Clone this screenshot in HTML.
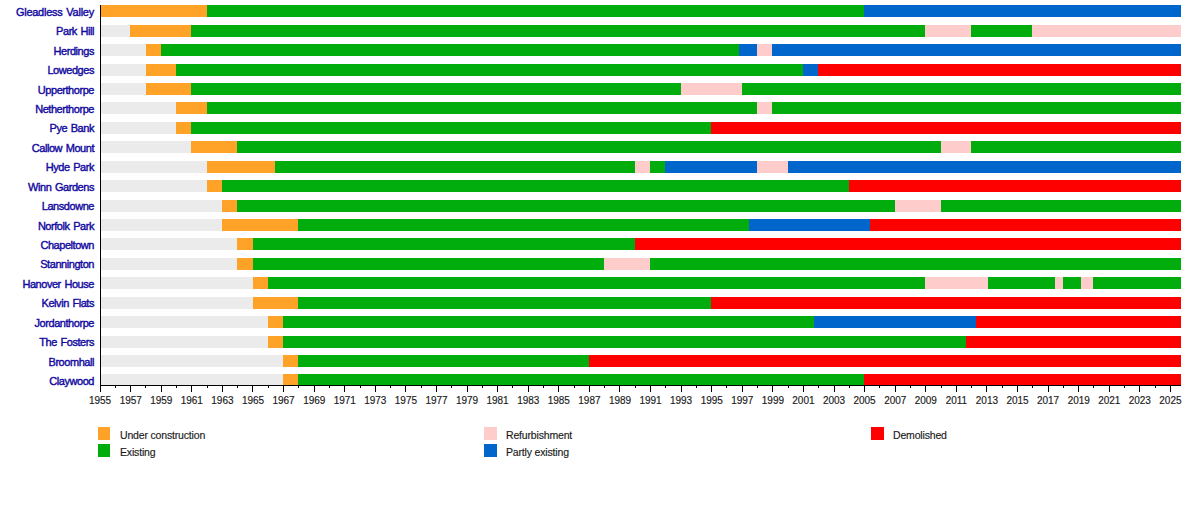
<!DOCTYPE html>
<html><head><meta charset="utf-8"><title>Timeline</title>
<style>
html,body{margin:0;padding:0;background:#fff;}
body{width:1200px;height:505px;position:relative;overflow:hidden;font-family:"Liberation Sans",sans-serif;}
.s{position:absolute;height:12px;}
.n{position:absolute;right:1106px;white-space:nowrap;font-size:11px;line-height:12px;color:#1209a0;letter-spacing:-0.45px;word-spacing:1px;-webkit-text-stroke:0.4px #1209a0;}
.t{position:absolute;width:1px;background:#000;top:385px;}
.l{position:absolute;top:396px;width:40px;margin-left:-20px;text-align:center;font-size:10px;line-height:10px;color:#1a1a1a;letter-spacing:-0.05px;-webkit-text-stroke:0.15px #1a1a1a;}
.k{position:absolute;width:12.5px;height:13px;}
.kt{position:absolute;font-size:10.5px;line-height:12px;color:#1a1a1a;white-space:nowrap;letter-spacing:-0.17px;-webkit-text-stroke:0.15px #1a1a1a;}
</style></head><body>

<div class="s" style="left:99.6px;top:5.3px;width:1081.4px;background:#ffa328"></div>
<div class="s" style="left:206.6px;top:5.3px;width:974.4px;background:#00ad0c"></div>
<div class="s" style="left:864.1px;top:5.3px;width:316.9px;background:#0066cc"></div>
<div class="n" style="top:5.8px;letter-spacing:-0.25px">Gleadless Valley</div>
<div class="s" style="left:99.6px;top:24.73px;width:1081.4px;background:#ebebeb"></div>
<div class="s" style="left:130.2px;top:24.73px;width:1050.8px;background:#ffa328"></div>
<div class="s" style="left:191.3px;top:24.73px;width:989.7px;background:#00ad0c"></div>
<div class="s" style="left:925.3px;top:24.73px;width:255.7px;background:#ffcccc"></div>
<div class="s" style="left:971.1px;top:24.73px;width:209.9px;background:#00ad0c"></div>
<div class="s" style="left:1032.3px;top:24.73px;width:148.7px;background:#ffcccc"></div>
<div class="n" style="top:25.2px">Park Hill</div>
<div class="s" style="left:99.6px;top:44.16px;width:1081.4px;background:#ebebeb"></div>
<div class="s" style="left:145.5px;top:44.16px;width:1035.5px;background:#ffa328"></div>
<div class="s" style="left:160.8px;top:44.16px;width:1020.2px;background:#00ad0c"></div>
<div class="s" style="left:738.7px;top:44.16px;width:442.3px;background:#0066cc"></div>
<div class="s" style="left:757.1px;top:44.16px;width:423.9px;background:#ffcccc"></div>
<div class="s" style="left:772.4px;top:44.16px;width:408.6px;background:#0066cc"></div>
<div class="n" style="top:44.7px">Herdings</div>
<div class="s" style="left:99.6px;top:63.59px;width:1081.4px;background:#ebebeb"></div>
<div class="s" style="left:145.5px;top:63.59px;width:1035.5px;background:#ffa328"></div>
<div class="s" style="left:176.0px;top:63.59px;width:1005.0px;background:#00ad0c"></div>
<div class="s" style="left:802.9px;top:63.59px;width:378.1px;background:#0066cc"></div>
<div class="s" style="left:818.2px;top:63.59px;width:362.8px;background:#ff0000"></div>
<div class="n" style="top:64.1px">Lowedges</div>
<div class="s" style="left:99.6px;top:83.02px;width:1081.4px;background:#ebebeb"></div>
<div class="s" style="left:145.5px;top:83.02px;width:1035.5px;background:#ffa328"></div>
<div class="s" style="left:191.3px;top:83.02px;width:989.7px;background:#00ad0c"></div>
<div class="s" style="left:680.6px;top:83.02px;width:500.4px;background:#ffcccc"></div>
<div class="s" style="left:741.8px;top:83.02px;width:439.2px;background:#00ad0c"></div>
<div class="n" style="top:83.5px">Upperthorpe</div>
<div class="s" style="left:99.6px;top:102.45px;width:1081.4px;background:#ebebeb"></div>
<div class="s" style="left:176.0px;top:102.45px;width:1005.0px;background:#ffa328"></div>
<div class="s" style="left:206.6px;top:102.45px;width:974.4px;background:#00ad0c"></div>
<div class="s" style="left:757.1px;top:102.45px;width:423.9px;background:#ffcccc"></div>
<div class="s" style="left:772.4px;top:102.45px;width:408.6px;background:#00ad0c"></div>
<div class="n" style="top:103.0px">Netherthorpe</div>
<div class="s" style="left:99.6px;top:121.88px;width:1081.4px;background:#ebebeb"></div>
<div class="s" style="left:176.0px;top:121.88px;width:1005.0px;background:#ffa328"></div>
<div class="s" style="left:191.3px;top:121.88px;width:989.7px;background:#00ad0c"></div>
<div class="s" style="left:711.2px;top:121.88px;width:469.8px;background:#ff0000"></div>
<div class="n" style="top:122.4px">Pye Bank</div>
<div class="s" style="left:99.6px;top:141.31px;width:1081.4px;background:#ebebeb"></div>
<div class="s" style="left:191.3px;top:141.31px;width:989.7px;background:#ffa328"></div>
<div class="s" style="left:237.2px;top:141.31px;width:943.8px;background:#00ad0c"></div>
<div class="s" style="left:940.5px;top:141.31px;width:240.5px;background:#ffcccc"></div>
<div class="s" style="left:971.1px;top:141.31px;width:209.9px;background:#00ad0c"></div>
<div class="n" style="top:141.8px">Callow Mount</div>
<div class="s" style="left:99.6px;top:160.74px;width:1081.4px;background:#ebebeb"></div>
<div class="s" style="left:206.6px;top:160.74px;width:974.4px;background:#ffa328"></div>
<div class="s" style="left:274.7px;top:160.74px;width:906.3px;background:#00ad0c"></div>
<div class="s" style="left:634.8px;top:160.74px;width:546.2px;background:#ffcccc"></div>
<div class="s" style="left:650.0px;top:160.74px;width:531.0px;background:#00ad0c"></div>
<div class="s" style="left:665.3px;top:160.74px;width:515.7px;background:#0066cc"></div>
<div class="s" style="left:757.1px;top:160.74px;width:423.9px;background:#ffcccc"></div>
<div class="s" style="left:787.6px;top:160.74px;width:393.4px;background:#0066cc"></div>
<div class="n" style="top:161.2px">Hyde Park</div>
<div class="s" style="left:99.6px;top:180.17px;width:1081.4px;background:#ebebeb"></div>
<div class="s" style="left:206.6px;top:180.17px;width:974.4px;background:#ffa328"></div>
<div class="s" style="left:221.9px;top:180.17px;width:959.1px;background:#00ad0c"></div>
<div class="s" style="left:848.8px;top:180.17px;width:332.2px;background:#ff0000"></div>
<div class="n" style="top:180.7px">Winn Gardens</div>
<div class="s" style="left:99.6px;top:199.6px;width:1081.4px;background:#ebebeb"></div>
<div class="s" style="left:221.9px;top:199.6px;width:959.1px;background:#ffa328"></div>
<div class="s" style="left:237.2px;top:199.6px;width:943.8px;background:#00ad0c"></div>
<div class="s" style="left:894.7px;top:199.6px;width:286.3px;background:#ffcccc"></div>
<div class="s" style="left:940.5px;top:199.6px;width:240.5px;background:#00ad0c"></div>
<div class="n" style="top:200.1px">Lansdowne</div>
<div class="s" style="left:99.6px;top:219.03px;width:1081.4px;background:#ebebeb"></div>
<div class="s" style="left:221.9px;top:219.03px;width:959.1px;background:#ffa328"></div>
<div class="s" style="left:298.4px;top:219.03px;width:882.6px;background:#00ad0c"></div>
<div class="s" style="left:748.7px;top:219.03px;width:432.3px;background:#0066cc"></div>
<div class="s" style="left:870.2px;top:219.03px;width:310.8px;background:#ff0000"></div>
<div class="n" style="top:219.5px">Norfolk Park</div>
<div class="s" style="left:99.6px;top:238.46px;width:1081.4px;background:#ebebeb"></div>
<div class="s" style="left:237.2px;top:238.46px;width:943.8px;background:#ffa328"></div>
<div class="s" style="left:252.5px;top:238.46px;width:928.5px;background:#00ad0c"></div>
<div class="s" style="left:634.8px;top:238.46px;width:546.2px;background:#ff0000"></div>
<div class="n" style="top:239.0px">Chapeltown</div>
<div class="s" style="left:99.6px;top:257.89px;width:1081.4px;background:#ebebeb"></div>
<div class="s" style="left:237.2px;top:257.89px;width:943.8px;background:#ffa328"></div>
<div class="s" style="left:252.5px;top:257.89px;width:928.5px;background:#00ad0c"></div>
<div class="s" style="left:604.2px;top:257.89px;width:576.8px;background:#ffcccc"></div>
<div class="s" style="left:650.0px;top:257.89px;width:531.0px;background:#00ad0c"></div>
<div class="n" style="top:258.4px">Stannington</div>
<div class="s" style="left:99.6px;top:277.32px;width:1081.4px;background:#ebebeb"></div>
<div class="s" style="left:252.5px;top:277.32px;width:928.5px;background:#ffa328"></div>
<div class="s" style="left:267.8px;top:277.32px;width:913.2px;background:#00ad0c"></div>
<div class="s" style="left:925.3px;top:277.32px;width:255.7px;background:#ffcccc"></div>
<div class="s" style="left:987.9px;top:277.32px;width:193.1px;background:#00ad0c"></div>
<div class="s" style="left:1054.5px;top:277.32px;width:126.5px;background:#ffcccc"></div>
<div class="s" style="left:1062.9px;top:277.32px;width:118.1px;background:#00ad0c"></div>
<div class="s" style="left:1081.2px;top:277.32px;width:99.8px;background:#ffcccc"></div>
<div class="s" style="left:1093.4px;top:277.32px;width:87.6px;background:#00ad0c"></div>
<div class="n" style="top:277.8px">Hanover House</div>
<div class="s" style="left:99.6px;top:296.75px;width:1081.4px;background:#ebebeb"></div>
<div class="s" style="left:252.5px;top:296.75px;width:928.5px;background:#ffa328"></div>
<div class="s" style="left:298.4px;top:296.75px;width:882.6px;background:#00ad0c"></div>
<div class="s" style="left:711.2px;top:296.75px;width:469.8px;background:#ff0000"></div>
<div class="n" style="top:297.2px">Kelvin Flats</div>
<div class="s" style="left:99.6px;top:316.18px;width:1081.4px;background:#ebebeb"></div>
<div class="s" style="left:267.8px;top:316.18px;width:913.2px;background:#ffa328"></div>
<div class="s" style="left:283.1px;top:316.18px;width:897.9px;background:#00ad0c"></div>
<div class="s" style="left:814.4px;top:316.18px;width:366.6px;background:#0066cc"></div>
<div class="s" style="left:975.7px;top:316.18px;width:205.3px;background:#ff0000"></div>
<div class="n" style="top:316.7px">Jordanthorpe</div>
<div class="s" style="left:99.6px;top:335.61px;width:1081.4px;background:#ebebeb"></div>
<div class="s" style="left:267.8px;top:335.61px;width:913.2px;background:#ffa328"></div>
<div class="s" style="left:283.1px;top:335.61px;width:897.9px;background:#00ad0c"></div>
<div class="s" style="left:965.8px;top:335.61px;width:215.2px;background:#ff0000"></div>
<div class="n" style="top:336.1px">The Fosters</div>
<div class="s" style="left:99.6px;top:355.04px;width:1081.4px;background:#ebebeb"></div>
<div class="s" style="left:283.1px;top:355.04px;width:897.9px;background:#ffa328"></div>
<div class="s" style="left:298.4px;top:355.04px;width:882.6px;background:#00ad0c"></div>
<div class="s" style="left:588.9px;top:355.04px;width:592.1px;background:#ff0000"></div>
<div class="n" style="top:355.5px">Broomhall</div>
<div class="s" style="left:99.6px;top:374.47px;width:1081.4px;background:#ebebeb"></div>
<div class="s" style="left:283.1px;top:374.47px;width:897.9px;background:#ffa328"></div>
<div class="s" style="left:298.4px;top:374.47px;width:882.6px;background:#00ad0c"></div>
<div class="s" style="left:864.1px;top:374.47px;width:316.9px;background:#ff0000"></div>
<div class="n" style="top:375.0px">Claywood</div>


<div style="position:absolute;left:100px;top:5px;width:1px;height:381px;background:#000"></div>
<div style="position:absolute;left:100px;top:385px;width:1081px;height:1px;background:#000"></div>
<div class="t" style="left:100px;height:7px"></div>
<div class="l" style="left:100.1px">1955</div>
<div class="t" style="left:115px;height:3px"></div>
<div class="t" style="left:130px;height:7px"></div>
<div class="l" style="left:130.7px">1957</div>
<div class="t" style="left:145px;height:3px"></div>
<div class="t" style="left:161px;height:7px"></div>
<div class="l" style="left:161.3px">1959</div>
<div class="t" style="left:176px;height:3px"></div>
<div class="t" style="left:191px;height:7px"></div>
<div class="l" style="left:191.8px">1961</div>
<div class="t" style="left:207px;height:3px"></div>
<div class="t" style="left:222px;height:7px"></div>
<div class="l" style="left:222.4px">1963</div>
<div class="t" style="left:237px;height:3px"></div>
<div class="t" style="left:252px;height:7px"></div>
<div class="l" style="left:253.0px">1965</div>
<div class="t" style="left:268px;height:3px"></div>
<div class="t" style="left:283px;height:7px"></div>
<div class="l" style="left:283.6px">1967</div>
<div class="t" style="left:298px;height:3px"></div>
<div class="t" style="left:314px;height:7px"></div>
<div class="l" style="left:314.2px">1969</div>
<div class="t" style="left:329px;height:3px"></div>
<div class="t" style="left:344px;height:7px"></div>
<div class="l" style="left:344.7px">1971</div>
<div class="t" style="left:360px;height:3px"></div>
<div class="t" style="left:375px;height:7px"></div>
<div class="l" style="left:375.3px">1973</div>
<div class="t" style="left:390px;height:3px"></div>
<div class="t" style="left:405px;height:7px"></div>
<div class="l" style="left:405.9px">1975</div>
<div class="t" style="left:421px;height:3px"></div>
<div class="t" style="left:436px;height:7px"></div>
<div class="l" style="left:436.5px">1977</div>
<div class="t" style="left:451px;height:3px"></div>
<div class="t" style="left:467px;height:7px"></div>
<div class="l" style="left:467.1px">1979</div>
<div class="t" style="left:482px;height:3px"></div>
<div class="t" style="left:497px;height:7px"></div>
<div class="l" style="left:497.6px">1981</div>
<div class="t" style="left:512px;height:3px"></div>
<div class="t" style="left:528px;height:7px"></div>
<div class="l" style="left:528.2px">1983</div>
<div class="t" style="left:543px;height:3px"></div>
<div class="t" style="left:558px;height:7px"></div>
<div class="l" style="left:558.8px">1985</div>
<div class="t" style="left:574px;height:3px"></div>
<div class="t" style="left:589px;height:7px"></div>
<div class="l" style="left:589.4px">1987</div>
<div class="t" style="left:604px;height:3px"></div>
<div class="t" style="left:619px;height:7px"></div>
<div class="l" style="left:620.0px">1989</div>
<div class="t" style="left:635px;height:3px"></div>
<div class="t" style="left:650px;height:7px"></div>
<div class="l" style="left:650.5px">1991</div>
<div class="t" style="left:665px;height:3px"></div>
<div class="t" style="left:681px;height:7px"></div>
<div class="l" style="left:681.1px">1993</div>
<div class="t" style="left:696px;height:3px"></div>
<div class="t" style="left:711px;height:7px"></div>
<div class="l" style="left:711.7px">1995</div>
<div class="t" style="left:726px;height:3px"></div>
<div class="t" style="left:742px;height:7px"></div>
<div class="l" style="left:742.3px">1997</div>
<div class="t" style="left:757px;height:3px"></div>
<div class="t" style="left:772px;height:7px"></div>
<div class="l" style="left:772.9px">1999</div>
<div class="t" style="left:788px;height:3px"></div>
<div class="t" style="left:803px;height:7px"></div>
<div class="l" style="left:803.4px">2001</div>
<div class="t" style="left:818px;height:3px"></div>
<div class="t" style="left:834px;height:7px"></div>
<div class="l" style="left:834.0px">2003</div>
<div class="t" style="left:849px;height:3px"></div>
<div class="t" style="left:864px;height:7px"></div>
<div class="l" style="left:864.6px">2005</div>
<div class="t" style="left:879px;height:3px"></div>
<div class="t" style="left:895px;height:7px"></div>
<div class="l" style="left:895.2px">2007</div>
<div class="t" style="left:910px;height:3px"></div>
<div class="t" style="left:925px;height:7px"></div>
<div class="l" style="left:925.8px">2009</div>
<div class="t" style="left:941px;height:3px"></div>
<div class="t" style="left:956px;height:7px"></div>
<div class="l" style="left:956.3px">2011</div>
<div class="t" style="left:971px;height:3px"></div>
<div class="t" style="left:986px;height:7px"></div>
<div class="l" style="left:986.9px">2013</div>
<div class="t" style="left:1002px;height:3px"></div>
<div class="t" style="left:1017px;height:7px"></div>
<div class="l" style="left:1017.5px">2015</div>
<div class="t" style="left:1032px;height:3px"></div>
<div class="t" style="left:1048px;height:7px"></div>
<div class="l" style="left:1048.1px">2017</div>
<div class="t" style="left:1063px;height:3px"></div>
<div class="t" style="left:1078px;height:7px"></div>
<div class="l" style="left:1078.7px">2019</div>
<div class="t" style="left:1093px;height:3px"></div>
<div class="t" style="left:1109px;height:7px"></div>
<div class="l" style="left:1109.2px">2021</div>
<div class="t" style="left:1124px;height:3px"></div>
<div class="t" style="left:1139px;height:7px"></div>
<div class="l" style="left:1139.8px">2023</div>
<div class="t" style="left:1155px;height:3px"></div>
<div class="t" style="left:1170px;height:7px"></div>
<div class="l" style="left:1170.4px">2025</div>


<div class="k" style="left:98px;top:427px;width:12px;background:#ffa328"></div>
<div class="kt" style="left:120px;top:428.5px">Under construction</div>
<div class="k" style="left:98px;top:444px;width:12px;background:#00ad0c"></div>
<div class="kt" style="left:120px;top:445.5px">Existing</div>
<div class="k" style="left:484px;top:427px;width:13px;background:#ffcccc"></div>
<div class="kt" style="left:506px;top:428.5px">Refurbishment</div>
<div class="k" style="left:484px;top:444px;width:13px;background:#0066cc"></div>
<div class="kt" style="left:506px;top:445.5px">Partly existing</div>
<div class="k" style="left:871px;top:427px;width:13px;background:#ff0000"></div>
<div class="kt" style="left:893px;top:428.5px">Demolished</div>

</body></html>
